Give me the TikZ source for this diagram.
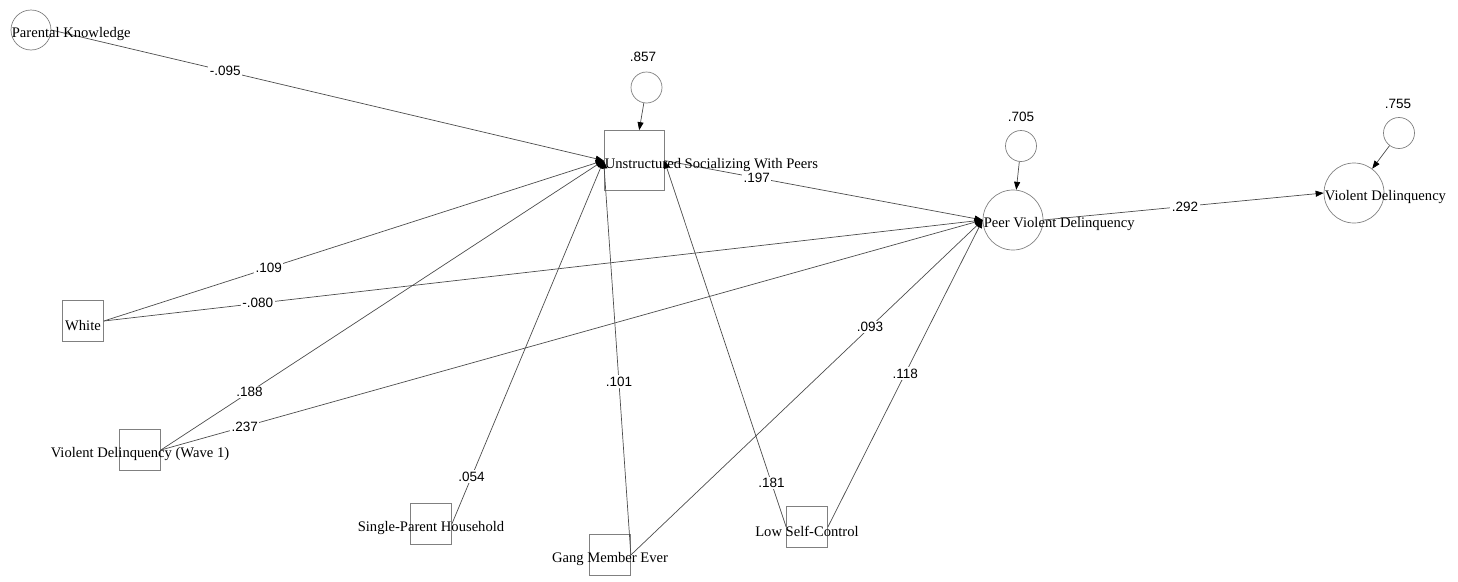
\documentclass[tikz,border=0pt]{standalone}
\usepackage{fontspec}
\setmainfont{Liberation Serif}
\newfontfamily\numfont{Liberation Sans}
\usetikzlibrary{arrows.meta,positioning}
\tikzset{
>={Triangle[length=8pt,width=6pt,color=black]},
  latent/.style={circle, draw=black!50, line width=0.7pt,
    minimum size=60pt, inner sep=0pt},
  manifest/.style={rectangle, draw=black!50, line width=0.7pt,
    minimum size=41pt, inner sep=0pt},
  resid/.style={circle, draw=black!50, line width=0.7pt,
    minimum size=31pt, inner sep=0pt},
  vtext/.style={font=\fontsize{14.6}{17}\selectfont, inner sep=1pt, yshift=-4.5pt},
  coef/.style={font=\numfont\fontsize{13.5}{15}\selectfont, fill=white, inner sep=1.5pt},
  resvar/.style={font=\numfont\fontsize{13.5}{15}\selectfont, inner sep=1pt},
  effect/.style={draw=black!70, line width=0.7pt, ->},
}
\begin{document}
\begin{tikzpicture}[x=1pt, y=-1pt]
    \useasboundingbox (0,0) rectangle (1458,581);

    %variables
    \node[latent, minimum size=40pt] (pk) at (31,30) {};
    \node[manifest, minimum size=60pt] (uns) at (634,160.5) {};
    \node[latent] (pvd) at (1013,220) {};
    \node[latent] (vd) at (1354,193) {};
    \node[manifest] (wht) at (83,321) {};
    \node[manifest] (vdw1) at (140,450) {};
    \node[manifest] (sph) at (431,524) {};
    \node[manifest] (gang) at (610,555) {};
    \node[manifest] (lsc) at (807,527) {};

    %residuals
    \node[resid] (e-uns) at (646.5,87.5) {};
    \node[resid] (e-pvd) at (1021,146) {};
    \node[resid] (e-vd) at (1399,133) {};
    \node[resvar] (v-uns) at (643,57) {.857};
    \node[resvar] (v-pvd) at (1021,117) {.705};
    \node[resvar] (v-vd) at (1398,104) {.755};
    \draw[effect] (e-uns) -- (uns);
    \draw[effect] (e-pvd) -- (pvd);
    \draw[effect] (e-vd) -- (vd);

    %paths
    \draw[effect] (pk.east) -- node[coef, pos=.315] {-.095} (uns.west);
    \draw[effect] (wht.east) -- node[coef, pos=.33] {.109} (uns.west);
    \draw[effect] (vdw1.east) -- node[coef, pos=.20] {.188} (uns.west);
    \draw[effect] (sph.east) -- node[coef, pos=.13] {.054} (uns.west);
    \draw[effect] (gang.east) -- node[coef, pos=.44] {.101} (uns.west);
    \draw[effect] (lsc.west) -- node[coef, pos=.12] {.181} (uns.east);
    \draw[effect] (uns.east) -- node[coef, pos=.29] {.197} (pvd.west);
    \draw[effect] (wht.east) -- node[coef, pos=.175] {-.080} (pvd.west);
    \draw[effect] (vdw1.east) -- node[coef, pos=.102] {.237} (pvd.west);
    \draw[effect] (gang.east) -- node[coef, pos=.68] {.093} (pvd.west);
    \draw[effect] (lsc.east) -- node[coef, pos=.50] {.118} (pvd.west);
    \draw[effect] (pvd.east) -- node[coef, pos=.505] {.292} (vd.west);

    %variable names
    \node[vtext, anchor=west] (pk-t) at (pk.west) {Parental Knowledge};
    \node[vtext, anchor=west] (uns-t) at (uns.west) {Unstructured Socializing With Peers};
    \node[vtext, anchor=west] (pvd-t) at (pvd.west) {Peer Violent Delinquency};
    \node[vtext, anchor=west] (vd-t) at (vd.west) {Violent Delinquency};
    \node[vtext] (wht-t) at (wht) {White};
    \node[vtext] (vdw1-t) at (vdw1) {Violent Delinquency (Wave 1)};
    \node[vtext] (sph-t) at (sph) {Single-Parent Household};
    \node[vtext] (gang-t) at (gang) {Gang Member Ever};
    \node[vtext] (lsc-t) at (lsc) {Low Self-Control};

\end{tikzpicture}
\end{document}
